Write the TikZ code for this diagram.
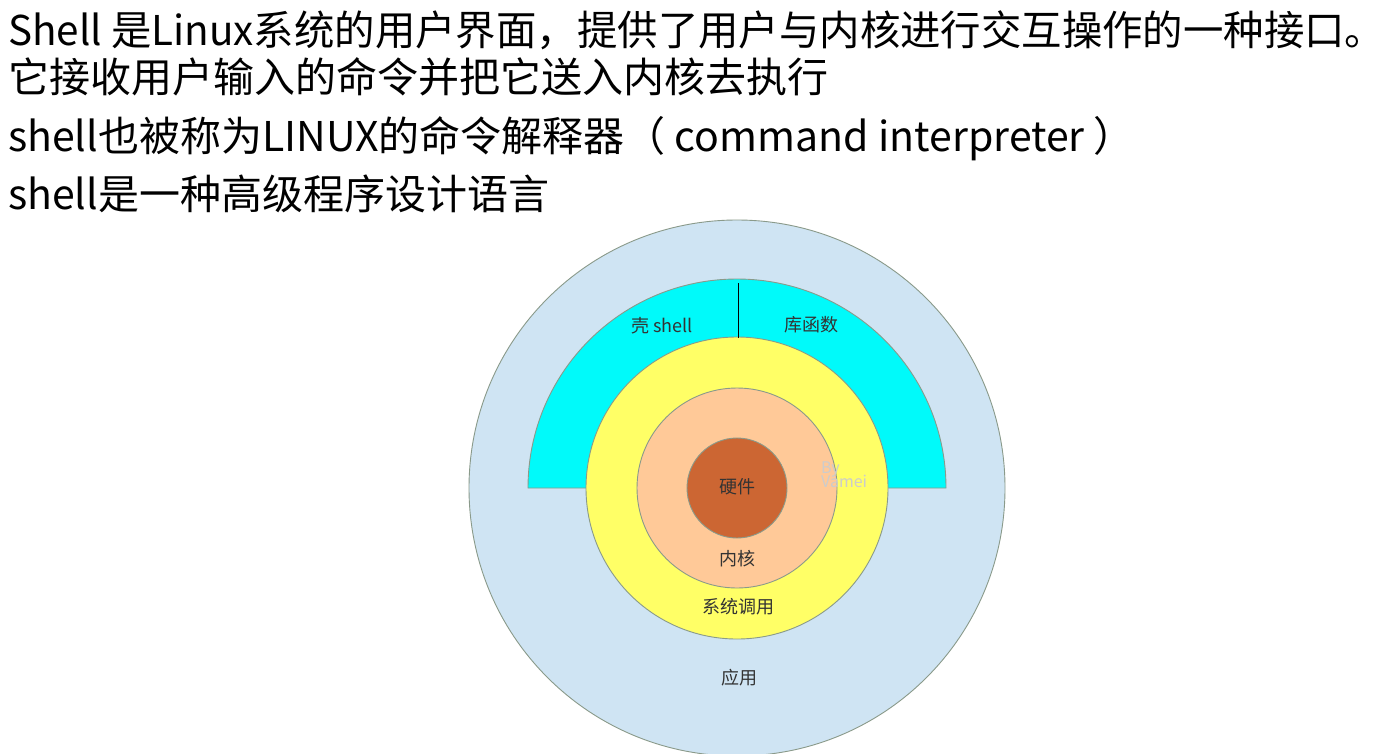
\documentclass[tikz,border=0pt]{standalone}
\usepackage{fontspec}
\usepackage{graphicx}
\setmainfont{Noto Sans CJK SC}
\definecolor{appblue}{HTML}{CFE4F3}
\definecolor{shellcyan}{HTML}{00FAFA}
\definecolor{sysyellow}{HTML}{FFFF66}
\definecolor{kernpeach}{HTML}{FFC998}
\definecolor{hwbrown}{HTML}{CC6633}
\definecolor{edgegray}{HTML}{8A9A8A}
\definecolor{labelgray}{HTML}{333333}
\tikzset{
  header/.style={anchor=base west, inner sep=0pt, font=\fontsize{41}{41}\selectfont, text=black},
  ringlabel/.style={inner sep=0pt, font=\fontsize{18}{18}\selectfont, text=labelgray},
  ring/.style={draw=edgegray, line width=0.9pt},
  watermark/.style={inner sep=0pt, anchor=west, font=\fontsize{16}{16}\selectfont, text=black!20, align=left}
}
\begin{document}
\begin{tikzpicture}[x=1pt,y=-1pt]
\useasboundingbox (0,0) rectangle (1389,753);
\fill[white] (0,0) rectangle (1389,753);
% header text
\node[header] (l1) at (8,45) {\resizebox{1377pt}{\height}{Shell 是Linux系统的用户界面，提供了用户与内核进行交互操作的一种接口。}};
\node[header] (l2) at (8,92) {它接收用户输入的命令并把它送入内核去执行};
\node[header] (l3) at (8,151) {shell也被称为LINUX的命令解释器（ command interpreter ）};
\node[header] (l4) at (8,209) {shell是一种高级程序设计语言};
% diagram
\coordinate (c) at (737,488);
\begin{scope}
\clip (0,0) rectangle (1389,753);
\filldraw[ring, fill=appblue] (c) circle (268);
\end{scope}
\filldraw[ring, fill=shellcyan] (528,488) arc[start angle=180, end angle=360, radius=209] -- cycle;
\filldraw[ring, fill=sysyellow] (c) circle (151);
\filldraw[ring, fill=kernpeach] (c) circle (100);
\filldraw[ring, fill=hwbrown] (c) circle (50);
\coordinate (vtop) at (738,283);
\coordinate (vbot) at (738,338);
\draw[black, line width=0.9pt] (vtop) -- (vbot);
% labels
\node[ringlabel] (shell) at (662,326) {壳 shell};
\node[ringlabel] (lib) at (811,325) {库函数};
\node[ringlabel] (hw) at (737,487) {硬件};
\node[ringlabel] (kern) at (737,559) {内核};
\node[ringlabel] (sys) at (738,607) {系统调用};
\node[ringlabel] (app) at (739,678) {应用};
\node[watermark] (wm) at (821,475) {By\\[-3pt]Vamei};
\end{tikzpicture}
\end{document}
